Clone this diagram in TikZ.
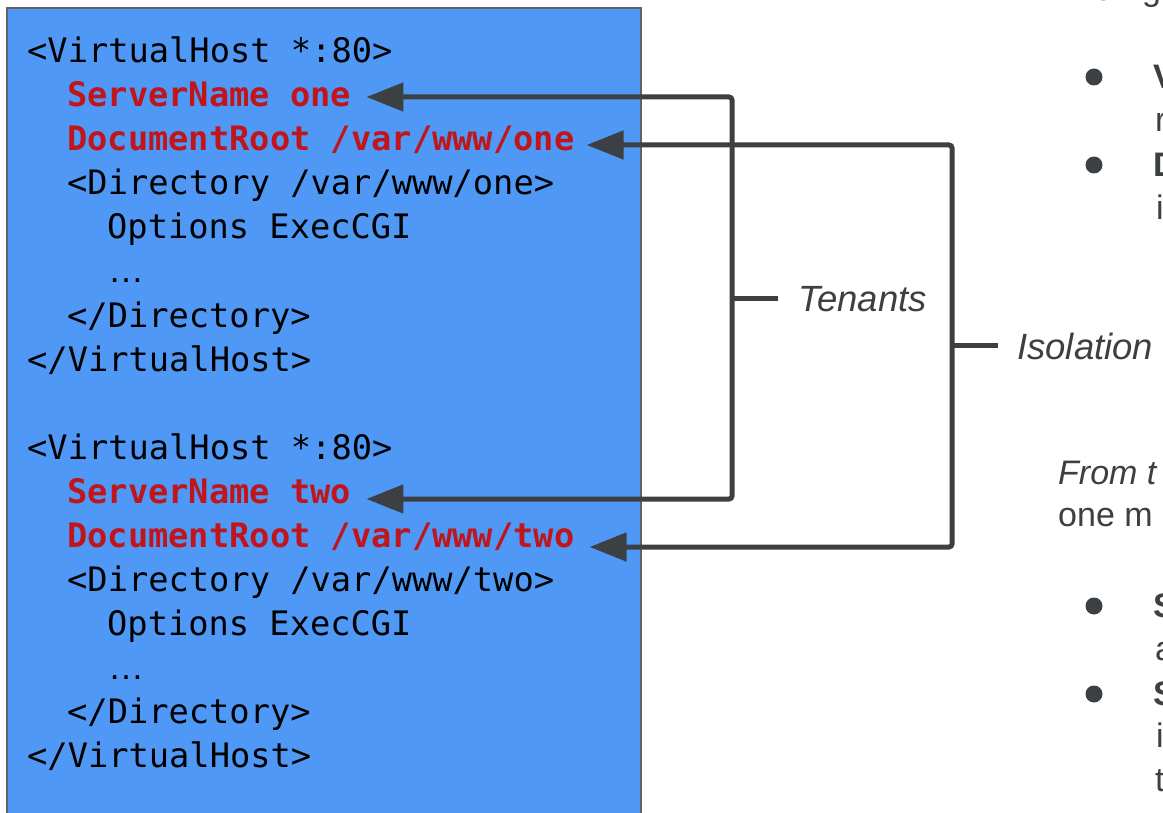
\documentclass[tikz,border=0pt]{standalone}
\usepackage{fontspec}
\setmainfont{Liberation Sans}
\newfontfamily\codefont{DejaVu Sans Mono}
\usetikzlibrary{arrows.meta}
\definecolor{boxblue}{HTML}{4F98F6}
\definecolor{boxedge}{HTML}{5F6368}
\definecolor{codered}{HTML}{C0161B}
\definecolor{ink}{HTML}{3C4043}
\begin{document}
\begin{tikzpicture}[x=1pt,y=-1pt,
  code/.style={anchor=base west, inner sep=0pt, font=\codefont\fontsize{33.7}{40}\selectfont, text=black},
  dots/.style={anchor=base west, inner sep=0pt, font=\rmfamily\fontsize{36}{40}\selectfont, text=black},
  hl/.style={code, font=\codefont\bfseries\fontsize{33.7}{40}\selectfont, text=codered},
  conn/.style={draw=ink, line width=5pt, rounded corners=3pt, -{Triangle[length=37pt,width=28pt]}},
  tickline/.style={draw=ink, line width=5pt},
  lbl/.style={anchor=west, inner sep=0pt, font=\itshape\fontsize{36.5}{42}\selectfont, text=ink},
  side/.style={anchor=base west, inner sep=0pt, font=\fontsize{34}{40}\selectfont, text=ink},
  sideit/.style={side, font=\itshape\fontsize{34}{40}\selectfont},
  sideb/.style={side, font=\bfseries\fontsize{34}{40}\selectfont},
  bullet/.style={circle, fill=ink, inner sep=0pt, minimum size=17pt}]
\useasboundingbox (0,0) rectangle (1163,813);
\clip (0,0) rectangle (1163,813);
\fill[white] (0,0) rectangle (1163,813);

% code box
\path[fill=boxblue, draw=boxedge, line width=1.5pt] (7,8) rectangle (641,850);

% first virtual host
\node[code] (a1) at (27,63)  {<VirtualHost *:80>};
\node[hl]   (s1) at (67,107) {ServerName one};
\node[hl]   (d1) at (67,151) {DocumentRoot /var/www/one};
\node[code] (a4) at (67,195) {<Directory /var/www/one>};
\node[code] (a5) at (107,239) {Options ExecCGI};
\node[dots] (a6) at (108,283) {…};
\node[code] (a7) at (67,327) {</Directory>};
\node[code] (a8) at (27,371) {</VirtualHost>};

% second virtual host
\node[code] (b1) at (27,459) {<VirtualHost *:80>};
\node[hl]   (s2) at (67,503) {ServerName two};
\node[hl]   (d2) at (67,547) {DocumentRoot /var/www/two};
\node[code] (b4) at (67,591) {<Directory /var/www/two>};
\node[code] (b5) at (107,635) {Options ExecCGI};
\node[dots] (b6) at (108,679) {…};
\node[code] (b7) at (67,723) {</Directory>};
\node[code] (b8) at (27,767) {</VirtualHost>};

% brackets
\node[lbl] (ten) at (798,299) {Tenants};
\node[lbl] (iso) at (1017,346) {Isolation};
\coordinate (tj) at (732,299);
\coordinate (ij) at (952,346);

\draw[conn] (tj) |- ([xshift=15pt,yshift=10pt]s1.base east);
\draw[conn] (tj) |- ([xshift=15pt,yshift=4pt]s2.base east);
\draw[tickline] (tj) -- ([xshift=-20pt]ten.west);

\draw[conn] (ij) |- ([xshift=12pt,yshift=6pt]d1.base east);
\draw[conn] (ij) |- ([xshift=15pt,yshift=0pt]d2.base east);
\draw[tickline] (ij) -- ([xshift=-19pt]iso.west);

% right-hand text (cut off by the frame)
\node[side] (t0a) at (1082,1) {re};
\node[side] (t0b) at (1142,1) {g};

\node[bullet] (p1) at (1094,77) {};
\node[sideb] (p1a) at (1153,89) {V};
\node[side]  (p1b) at (1155,132) {r};
\node[bullet] (p2) at (1094,165) {};
\node[sideb] (p2a) at (1153,177) {D};
\node[side]  (p2b) at (1156,220) {i};

\node[sideit] (f1) at (1058,484) {From t};
\node[side]   (f2) at (1058,526) {one m};

\node[bullet] (q1) at (1094,606) {};
\node[sideb] (q1a) at (1153,617) {S};
\node[side]  (q1b) at (1155,660) {a};
\node[bullet] (q2) at (1094,694) {};
\node[sideb] (q2a) at (1153,705) {S};
\node[side]  (q2b) at (1156,747) {i};
\node[side]  (q2c) at (1155,791) {t};
\end{tikzpicture}
\end{document}
